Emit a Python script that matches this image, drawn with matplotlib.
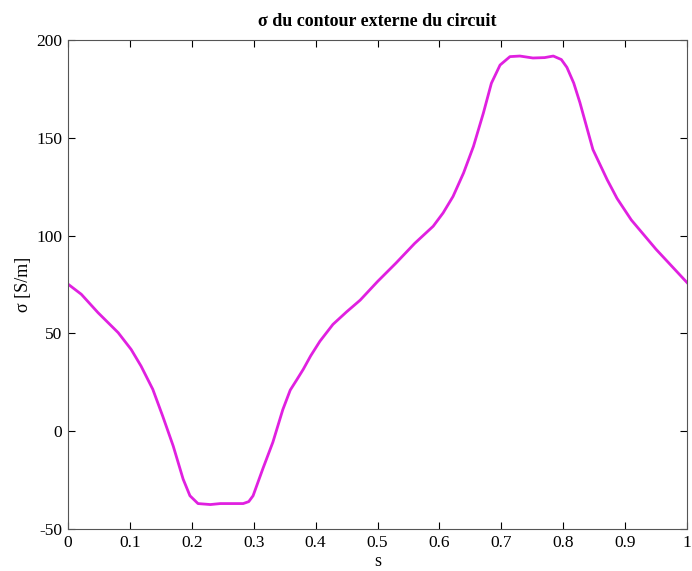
import numpy as np
import matplotlib
matplotlib.use('Agg')
from matplotlib import pyplot as plt

plt.rcParams['axes.unicode_minus'] = False

# valeurs
s = [0.0, 0.0215, 0.0485, 0.081, 0.102, 0.118, 0.137, 0.153, 0.17, 0.186,
     0.197, 0.21, 0.23, 0.246, 0.265, 0.283, 0.292, 0.299, 0.307, 0.315, 0.331,
     0.347, 0.359, 0.37, 0.38, 0.392, 0.407, 0.428, 0.45, 0.472, 0.5, 0.53,
     0.56, 0.59, 0.606, 0.622, 0.639, 0.655, 0.671, 0.684, 0.698, 0.714, 0.73,
     0.751, 0.77, 0.784, 0.797, 0.806, 0.817, 0.827, 0.848, 0.871, 0.887, 0.91,
     0.95, 1.0]
sigma = [75.2, 70, 60.6, 50.4, 41.8, 33.3, 21.4, 7.7, -7.6, -24.5,
         -33, -37, -37.5, -37, -37, -37, -36, -33, -26, -19, -5.6,
         11, 21, 26.5, 31.6, 38.5, 46, 54.6, 61, 67, 76.5, 86,
         96, 104.8, 111.6, 120, 132, 145.6, 162.6, 177.9, 187.2, 191.5, 191.8,
         190.8, 191, 191.8, 190, 186, 178, 168, 144, 128.6, 119, 108,
         93, 76]

fig = plt.figure(figsize=(6.92, 5.71), dpi=100)
ax = fig.add_axes([68 / 692, 42 / 571, 619 / 692, 489 / 571])

ax.plot(s, sigma, color='#e020e0', linewidth=2)

ax.set_xlim(0, 1)
ax.set_ylim(-50, 200)
ax.set_xticks(np.arange(0, 1.01, 0.1))
ax.set_xticklabels(['0', '0.1', '0.2', '0.3', '0.4', '0.5', '0.6', '0.7', '0.8', '0.9', '1'])
ax.set_yticks([-50, 0, 50, 100, 150, 200])
ax.tick_params(direction='in', top=True, right=True, length=5, labelsize=12.5, pad=4)
for t in ax.get_xticklabels() + ax.get_yticklabels():
    t.set_family('Liberation Serif')
for sp in ax.spines.values():
    sp.set_color('#555555')

ax.set_title('σ du contour externe du circuit', family=['Liberation Serif', 'DejaVu Serif'],
             fontsize=13, fontweight='bold', pad=10)
ax.set_xlabel('s', family='Liberation Serif', fontsize=13, labelpad=2)
ax.set_ylabel('σ [S/m]', family=['Liberation Serif', 'DejaVu Serif'], fontsize=13, labelpad=3)

fig.savefig('out.png', dpi=100)
